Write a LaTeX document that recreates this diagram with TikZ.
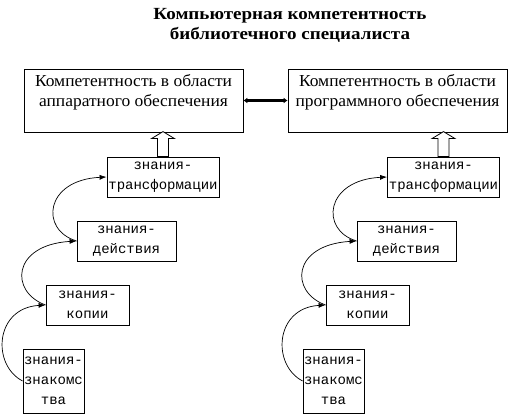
\documentclass[tikz,border=0pt]{standalone}
\usepackage{fontspec}
\newfontfamily\boxfont{Liberation Mono}
\newfontfamily\bigfont[FakeStretch=1.04]{Liberation Serif}
\newfontfamily\titlefont[FakeStretch=1.12]{Liberation Serif}
\usetikzlibrary{arrows.meta,calc}
\begin{document}
\begin{tikzpicture}[x=1pt,y=-1pt,
  bigbox/.style={draw,line width=0.8pt,inner sep=0pt,minimum width=219pt,minimum height=63pt,align=center,font=\bigfont\fontsize{16.8}{20}\selectfont},
  smallbox/.style={draw,line width=0.8pt,inner sep=0pt,minimum height=40pt,align=center,font=\boxfont\fontsize{14}{20}\selectfont},
  curvearrow/.style={line width=0.7pt,-{Latex[length=7pt,width=5pt]}},
  hollow/.style={draw,line width=0.8pt,fill=white}
]
\useasboundingbox (0,0) rectangle (512,417);
\node[font=\titlefont\bfseries\fontsize{17}{20}\selectfont,align=center] (title) at (290,25) {Компьютерная компетентность\\библиотечного специалиста};

\node[bigbox] (BL) at (133.5,100.5) {Компетентность в области\\аппаратного обеспечения\\\mbox{}};
\node[bigbox] (BR) at (397.5,100.5) {Компетентность в области\\программного обеспечения\\\mbox{}};

\draw[line width=2.5pt,{Latex[length=4pt,width=6pt]}-{Latex[length=4pt,width=6pt]}] (BL.east) -- (BR.west);

\node[smallbox,minimum width=61pt,minimum height=64pt] (L1) at (53.5,381) {знания-\\знакомс\\тва};
\node[smallbox,minimum width=83pt] (L2) at (87.5,305) {знания-\\копии};
\node[smallbox,minimum width=99pt] (L3) at (126.5,241) {знания-\\действия};
\node[smallbox,minimum width=112pt] (L4) at (163,177) {знания-\\трансформации};

\node[smallbox,minimum width=61pt,minimum height=64pt] (R1) at (333.5,381) {знания-\\знакомс\\тва};
\node[smallbox,minimum width=83pt] (R2) at (367.5,305) {знания-\\копии};
\node[smallbox,minimum width=99pt] (R3) at (406.5,241) {знания-\\действия};
\node[smallbox,minimum width=112pt] (R4) at (443.5,177) {знания-\\трансформации};

\foreach \a/\b/\c/\d in {L1/L2/L3/L4,R1/R2/R3/R4}{
  \draw[curvearrow] (\a.west) .. controls +(-31,-16) and +(-51,3) .. (\b.west);
  \draw[curvearrow] (\b.west) .. controls +(-36,-13) and +(-65,4) .. (\c.west);
  \draw[curvearrow] (\c.west) .. controls +(-37,-11) and +(-62,3) .. (\d.west);
  \draw[hollow] ($(\d.north)+(-5.5,0)$) -- ++(0,-18) -- ++(-6,0) -- ++(11.5,-7) -- ++(11.5,7) -- ++(-6,0) -- ++(0,18) -- cycle;
}
\end{tikzpicture}
\end{document}
